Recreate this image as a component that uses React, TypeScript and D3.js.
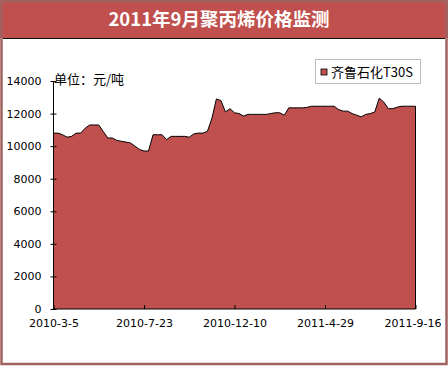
import React, { useEffect, useRef } from 'react';
import * as d3 from 'd3';

// weekly price, 2010-3-5 .. 2011-9-16 (81 weeks)
const prices = [
  10800, 10800, 10700, 10550, 10600, 10800, 10800, 11100, 11300, 11300,
  11300, 10900, 10500, 10500, 10350, 10300, 10250, 10200, 10000, 9800,
  9700, 9700, 10700, 10700, 10700, 10400, 10600, 10600, 10600, 10600,
  10550, 10750, 10800, 10800, 10900, 11700, 12900, 12800, 12100, 12300,
  12050, 12000, 11850, 11950, 11950, 11950, 11950, 11950, 12000, 12050,
  12050, 11900, 12350, 12350, 12350, 12350, 12380, 12450, 12450, 12450,
  12450, 12450, 12450, 12250, 12150, 12150, 12000, 11900, 11800, 11950,
  12000, 12100, 12950, 12700, 12300, 12300, 12400, 12450, 12450, 12450,
  12450,
];
const tickIndex = [0, 20, 40, 60, 80];
const tickLabels = ['2010-3-5', '2010-7-23', '2010-12-10', '2011-4-29', '2011-9-16'];
const yTicks = [0, 2000, 4000, 6000, 8000, 10000, 12000, 14000];
const title = '2011年9月聚丙烯价格监测';
const seriesName = '齐鲁石化T30S';
const unitLabel = '单位：元/吨';

const W = 448, H = 366;
const red = '#C0504D';

export default function App() {
  const ref = useRef<SVGSVGElement>(null);

  useEffect(() => {
    const svg = d3.select(ref.current);
    svg.selectAll('*').remove();

    const left = 53.5, right = 415.5, top = 81, bottom = 309;
    const x = d3.scaleLinear().domain([0, prices.length - 1]).range([left, right]);
    const y = d3.scaleLinear().domain([0, 14000]).range([bottom, top]);

    // frame + title bar
    svg.append('rect').attr('x', 0).attr('y', 0).attr('width', W).attr('height', H).attr('fill', '#fff');
    svg.append('rect').attr('x', 0).attr('y', 0).attr('width', W).attr('height', 38).attr('fill', red);
    svg.append('rect').attr('x', 1.5).attr('y', 1).attr('width', W - 3).attr('height', H - 3)
      .attr('fill', 'none').attr('stroke', '#A0625F').attr('stroke-width', 2.5);
    svg.append('line').attr('x1', 3).attr('x2', W - 3).attr('y1', 38.5).attr('y2', 38.5)
      .attr('stroke', '#111').attr('stroke-width', 1);

    svg.append('text').attr('x', 219).attr('y', 26).attr('text-anchor', 'middle')
      .attr('fill', '#fff').attr('font-family', '"Noto Sans CJK SC", sans-serif')
      .attr('font-size', 18.5).attr('font-weight', 'bold').text(title);

    // area + outline
    const area = d3.area<number>()
      .x((d, i) => x(i)).y0(y(0)).y1(d => y(d));
    svg.append('path').datum(prices).attr('d', area).attr('fill', red);
    const line = d3.line<number>().x((d, i) => x(i)).y(d => y(d));
    svg.append('path').datum(prices).attr('d', line).attr('fill', 'none')
      .attr('stroke', '#000').attr('stroke-width', 1);
    svg.append('line').attr('x1', x(prices.length - 1)).attr('x2', x(prices.length - 1))
      .attr('y1', y(prices[prices.length - 1])).attr('y2', bottom).attr('stroke', '#000');

    // y axis
    const yAxis = svg.append('g').attr('transform', `translate(${left},0)`)
      .call(d3.axisLeft(y).tickValues(yTicks).tickSize(3).tickPadding(9).tickFormat(d => String(d)));
    yAxis.select('.domain').attr('stroke', '#000').attr('d', `M0,${top}V${bottom}`);
    yAxis.selectAll('.tick line').attr('x2', 3).attr('x1', -3);
    yAxis.selectAll('text').attr('font-family', '"DejaVu Sans", sans-serif').attr('font-size', 11).attr('fill', '#000');

    // x axis
    const xAxis = svg.append('g').attr('transform', `translate(0,${bottom})`)
      .call(d3.axisBottom(x).tickValues(tickIndex).tickSize(-4).tickPadding(10)
        .tickFormat((d, i) => tickLabels[i]));
    xAxis.select('.domain').attr('stroke', '#000').attr('d', `M${left},0H${right}`);
    xAxis.selectAll('text').attr('font-family', '"DejaVu Sans", sans-serif').attr('font-size', 11).attr('fill', '#000');
    xAxis.selectAll('.tick:last-of-type text').attr('dx', -3);

    // unit label
    svg.append('text').attr('x', 54).attr('y', 84).attr('font-family', '"Noto Sans CJK SC", sans-serif')
      .attr('font-size', 13).attr('fill', '#000').text(unitLabel);

    // legend
    svg.append('rect').attr('x', 315.5).attr('y', 59.5).attr('width', 105).attr('height', 24)
      .attr('fill', '#fff').attr('stroke', '#BDBDBD');
    svg.append('rect').attr('x', 321).attr('y', 69).attr('width', 6).attr('height', 6)
      .attr('fill', red).attr('stroke', '#000').attr('stroke-width', 0.8);
    svg.append('text').attr('x', 331).attr('y', 76.5).attr('font-family', '"Noto Sans CJK SC", sans-serif')
      .attr('font-size', 13).attr('fill', '#000').text(seriesName);
  }, []);

  return (
    <svg ref={ref} width={W} height={H} style={{ position: 'absolute', left: 0, top: 0 }} />
  );
}
